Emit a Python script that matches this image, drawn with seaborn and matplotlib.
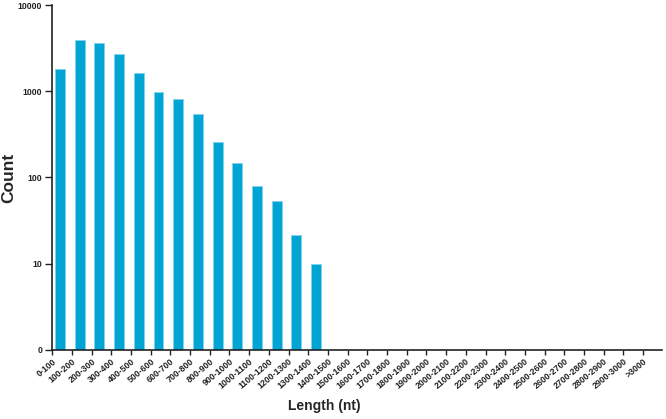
import numpy as np
import pandas as pd
import matplotlib
matplotlib.use("Agg")
import matplotlib.pyplot as plt
import seaborn as sns

# length bins (nt)
bins = ["0-100", "100-200", "200-300", "300-400", "400-500", "500-600",
        "600-700", "700-800", "800-900", "900-1000", "1000-1100", "1100-1200",
        "1200-1300", "1300-1400", "1400-1500", "1500-1600", "1600-1700",
        "1700-1800", "1800-1900", "1900-2000", "2000-2100", "2100-2200",
        "2200-2300", "2300-2400", "2400-2500", "2500-2600", "2600-2700",
        "2700-2800", "2800-2900", "2900-3000", ">3000"]

# counts
counts = [1800, 3920, 3580, 2720, 1630, 975, 810, 550, 257, 147, 80, 54,
          21.5, 10, 0, 0, 0, 0, 0, 0, 0, 0, 0, 0, 0, 0, 0, 0, 0, 0, 0]

ytick_vals = [1, 10, 100, 1000, 10000]
ytick_labels = ["0", "10", "100", "1000", "10000"]

df = pd.DataFrame({"length": bins, "count": counts})

sns.set_style("ticks")
plt.rcParams["font.family"] = ["Liberation Sans", "DejaVu Sans"]

fig = plt.figure(figsize=(6.66, 4.19), dpi=100)
ax = fig.add_axes([0.078, 0.165, 0.916, 0.823])

sns.barplot(data=df, x="length", y="count", order=bins, color="#00A5D4",
            saturation=1, width=0.5, edgecolor="#7FD3EE", linewidth=0.6, ax=ax)

ax.set_yscale("log")
ax.set_ylim(1, 10000)
ax.set_yticks(ytick_vals)
ax.set_yticklabels(ytick_labels, fontsize=6.2, fontweight="bold")
ax.minorticks_off()

# x ticks sit just left of each bar
xt = np.arange(len(bins)) - 0.4
ax.set_xticks(xt)
ax.set_xticklabels(bins, rotation=40, ha="right", rotation_mode="anchor",
                   fontsize=6.3, fontweight="bold")
ax.set_xlim(-0.41, 30.56)

ax.tick_params(axis="y", length=5, width=1, pad=2, colors="#222222")
ax.tick_params(axis="x", length=3.5, width=1, pad=1.5, colors="#222222")

for s in ["top", "right"]:
    ax.spines[s].set_visible(False)
for s in ["left", "bottom"]:
    ax.spines[s].set_linewidth(1.2)
    ax.spines[s].set_color("#222222")

ax.set_ylabel("Count", fontsize=12.5, fontweight="bold")
ax.set_xlabel("Length (nt)", fontsize=10, fontweight="bold")
ax.yaxis.set_label_coords(-0.058, 0.5)
ax.xaxis.set_label_coords(0.446, -0.142)

fig.savefig("out.png", dpi=100)
